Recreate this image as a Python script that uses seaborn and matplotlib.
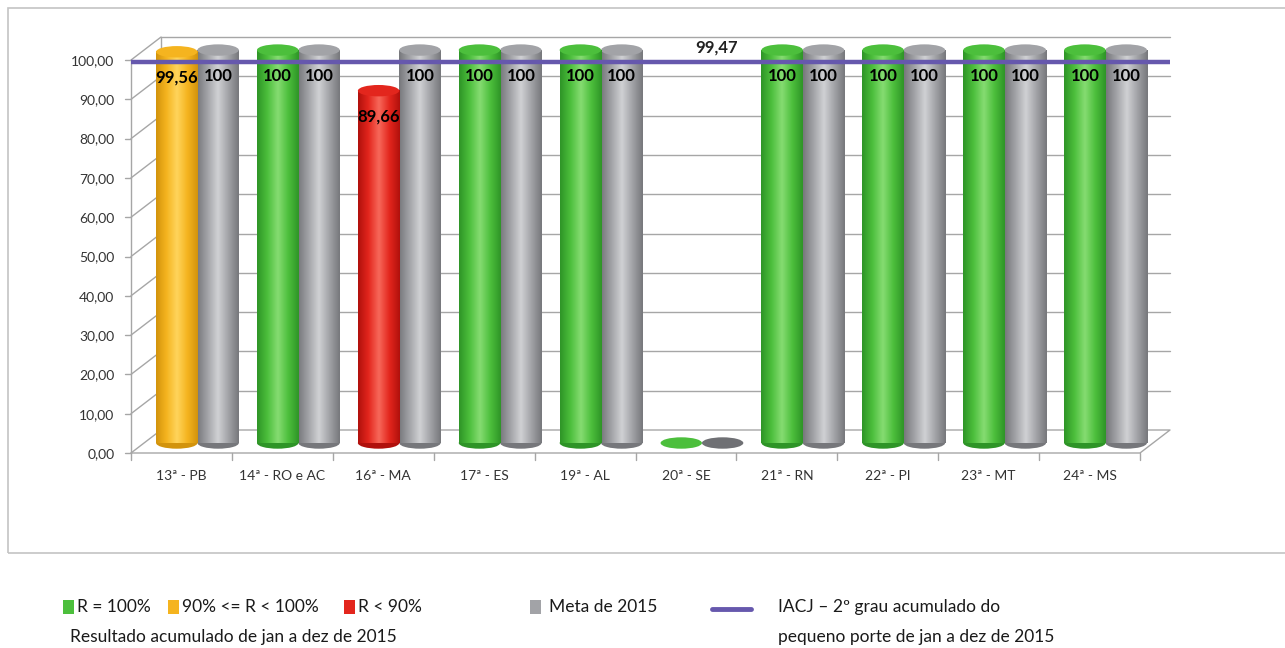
import numpy as np
import pandas as pd
import seaborn as sns
import matplotlib.pyplot as plt
import matplotlib.transforms as mtransforms
from matplotlib.patches import Ellipse, Rectangle
from matplotlib.lines import Line2D
from matplotlib.colors import LinearSegmentedColormap

# ---- dados ----
regionais = ["13ª - PB", "14ª - RO e AC", "16ª - MA", "17ª - ES", "19ª - AL",
             "20ª - SE", "21ª - RN", "22ª - PI", "23ª - MT", "24ª - MS"]
resultado = [99.56, 100, 89.66, 100, 100, 0, 100, 100, 100, 100]
meta = [100, 100, 100, 100, 100, 0, 100, 100, 100, 100]
faixa = ["amarelo", "verde", "vermelho", "verde", "verde",
         "verde", "verde", "verde", "verde", "verde"]
iacj = 99.47
y_ticks = [0, 10, 20, 30, 40, 50, 60, 70, 80, 90, 100]

# tons (escuro, base, claro) para o efeito cilíndrico
tons = {
    "verde": ("#2e9427", "#4cbf3c", "#86dc72"),
    "amarelo": ("#d2930c", "#f5b41f", "#ffd45c"),
    "vermelho": ("#b0100c", "#e3261d", "#f7685a"),
    "meta": ("#76777b", "#a2a3a7", "#d0d1d4"),
}
cor_linha = "#6658ad"

df = pd.DataFrame({
    "regional": regionais * 2,
    "serie": ["Resultado"] * len(regionais) + ["Meta"] * len(regionais),
    "valor": resultado + meta,
})

sns.set_theme(style="white")
plt.rcParams["font.family"] = ["Lato", "DejaVu Sans"]

W, H = 1285, 648
fig = plt.figure(figsize=(W / 100, H / 100), dpi=100)
fig.patch.set_facecolor("white")

# moldura do gráfico
fig.patches.append(Rectangle((8 / W, (H - 553) / H), (W - 8) / W + 0.01, (553 - 8) / H,
                             transform=fig.transFigure, fill=False,
                             edgecolor="#c4c4c4", lw=1.2))

ymax = 105
ax = fig.add_axes([131 / W, 1 - 453 / H, (1140 - 131) / W, (453 - 40.4) / H])
sns.barplot(data=df, x="regional", y="valor", hue="serie",
            hue_order=["Resultado", "Meta"], dodge=True, width=0.82,
            saturation=1, legend=False, ax=ax, zorder=3)
ax.set_ylim(0, ymax)
ax.set_xlim(-0.5, len(regionais) - 0.5)
ax.set_facecolor("none")
for s in ax.spines.values():
    s.set_visible(False)

# deslocamentos de profundidade (pseudo 3D)
depth = mtransforms.offset_copy(ax.transData, fig=fig, x=16, y=10, units="dots")
back_dx, back_dy = 30, 23

fig.canvas.draw()
to_px = ax.transData.transform

grid_col = "#a6a6a6"
# parede lateral, fundo e piso
for v in y_ticks:
    x0, y0 = to_px((-0.5, v))
    x1, y1 = to_px((len(regionais) - 0.5, v))
    if v > 0:
        fig.add_artist(Line2D([x0 + back_dx, x1 + back_dx], [y0 + back_dy, y1 + back_dy],
                              transform=None, color=grid_col, lw=1.0, zorder=0))
    fig.add_artist(Line2D([x0, x0 + back_dx], [y0, y0 + back_dy],
                          transform=None, color=grid_col, lw=1.0, zorder=0))
    fig.add_artist(Line2D([x0 - 6, x0], [y0, y0], transform=None,
                          color=grid_col, lw=1.0, zorder=0))
xa, ya = to_px((-0.5, 0))
xb, yb = to_px((len(regionais) - 0.5, 0))
xt, yt = to_px((-0.5, 100))
fig.add_artist(Line2D([xa, xb, xb + back_dx, xa + back_dx],
                      [ya, yb, yb + back_dy, ya + back_dy],
                      transform=None, color=grid_col, lw=1.0, zorder=0))
fig.add_artist(Line2D([xa, xt], [ya, yt], transform=None, color=grid_col, lw=1.0, zorder=0))
fig.add_artist(Line2D([xa + back_dx, xt + back_dx], [ya + back_dy, yt + back_dy],
                      transform=None, color=grid_col, lw=1.0, zorder=0))
# marcas entre categorias
for k in range(len(regionais) + 1):
    xk, yk = to_px((k - 0.5, 0))
    fig.add_artist(Line2D([xk, xk], [yk, yk - 7], transform=None,
                          color=grid_col, lw=1.0, zorder=0))

# cilindros
n = len(regionais)
bars = ax.patches[:2 * n]
cap_h = 2.9
for idx, p in enumerate(bars):
    serie_meta = idx >= n
    i = idx % n
    chave = "meta" if serie_meta else faixa[i]
    escuro, base, claro = tons[chave]
    x, w, h = p.get_x(), p.get_width(), p.get_height()
    p.set_transform(depth)
    p.set_clip_on(False)
    p.set_facecolor(base)
    p.set_edgecolor("none")
    p.set_zorder(3 if serie_meta else 4)
    z = p.get_zorder()
    cmap = LinearSegmentedColormap.from_list(
        chave, [escuro, base, claro, base, escuro], N=256)
    if h > 0:
        grad = np.linspace(0, 1, 256).reshape(1, -1)
        im = ax.imshow(grad, cmap=cmap, aspect="auto", extent=(x, x + w, 0, h),
                       zorder=z, interpolation="bicubic")
        im.set_transform(depth)
        im.set_clip_path(p)
        im.set_clip_box(fig.bbox)
    # base arredondada
    ax.add_patch(Ellipse((x + w / 2, 0), w, cap_h, facecolor=escuro if h > 0 else
                         ("#6f7074" if serie_meta else base),
                         edgecolor="none", transform=depth, clip_on=False,
                         zorder=z - 0.1 if h > 0 else z))
    # tampa superior
    if h > 0:
        ax.add_patch(Ellipse((x + w / 2, h), w, cap_h, facecolor=base,
                             edgecolor="none", transform=depth, clip_on=False,
                             zorder=z + 0.1))
    # rótulo de valor
    if h > 0:
        txt = f"{h:.2f}".replace(".", ",")
        if txt.endswith(",00"):
            txt = txt[:-3]
        ax.annotate(txt, (x + w / 2, h), xycoords=depth, xytext=(0, -26),
                    textcoords="offset pixels", ha="center", va="center",
                    fontsize=12, fontweight="bold", color="black", zorder=10,
                    annotation_clip=False)

ax.set_xlim(-0.5, n - 0.5)
ax.set_ylim(0, ymax)

# linha IACJ
ax.hlines(iacj, -0.5, n - 0.5 + 0.3, color=cor_linha, lw=3.2, zorder=8, clip_on=False)
ax.annotate(f"{iacj:.2f}".replace(".", ","), (5, iacj), xycoords="data",
            xytext=(31, 15), textcoords="offset pixels", ha="center", va="center",
            fontsize=12, fontweight="bold", color="#222222", zorder=10)

# eixos
ax.set_yticks(y_ticks)
ax.set_yticklabels([f"{v:.2f}".replace(".", ",") for v in y_ticks],
                   fontsize=10, color="#333333")
ax.set_xticks(range(n))
ax.set_xticklabels(regionais, fontsize=10, color="#333333")
ax.tick_params(axis="both", length=0, pad=12)
ax.tick_params(axis="x", pad=12)
ax.set_xlabel("")
ax.set_ylabel("")
ax.grid(False)

# legenda
fs = 12.5
tc = "#1a1a1a"

def quadrado(x, y, cor):
    fig.patches.append(Rectangle((x / W, 1 - (y + 7) / H), 11 / W, 14 / H,
                                 transform=fig.transFigure, facecolor=cor,
                                 edgecolor="none"))

def texto(x, y, s):
    fig.text(x / W, 1 - y / H, s, fontsize=fs, color=tc, ha="left", va="center")

quadrado(63, 607, tons["verde"][1])
texto(77, 607, "R = 100%")
quadrado(168, 607, tons["amarelo"][1])
texto(182, 607, "90% <= R < 100%")
quadrado(344, 607, tons["vermelho"][1])
texto(358, 607, "R < 90%")
texto(70, 637, "Resultado acumulado de jan a dez de 2015")
quadrado(530, 607, tons["meta"][1])
texto(549, 607, "Meta de 2015")
fig.add_artist(Line2D([712 / W, 751 / W], [1 - 609 / H, 1 - 609 / H],
                      transform=fig.transFigure, color=cor_linha, lw=3.5))
texto(778, 607, "IACJ – 2º grau acumulado do")
texto(778, 637, "pequeno porte de jan a dez de 2015")

fig.savefig("out.png", dpi=100, facecolor="white")
